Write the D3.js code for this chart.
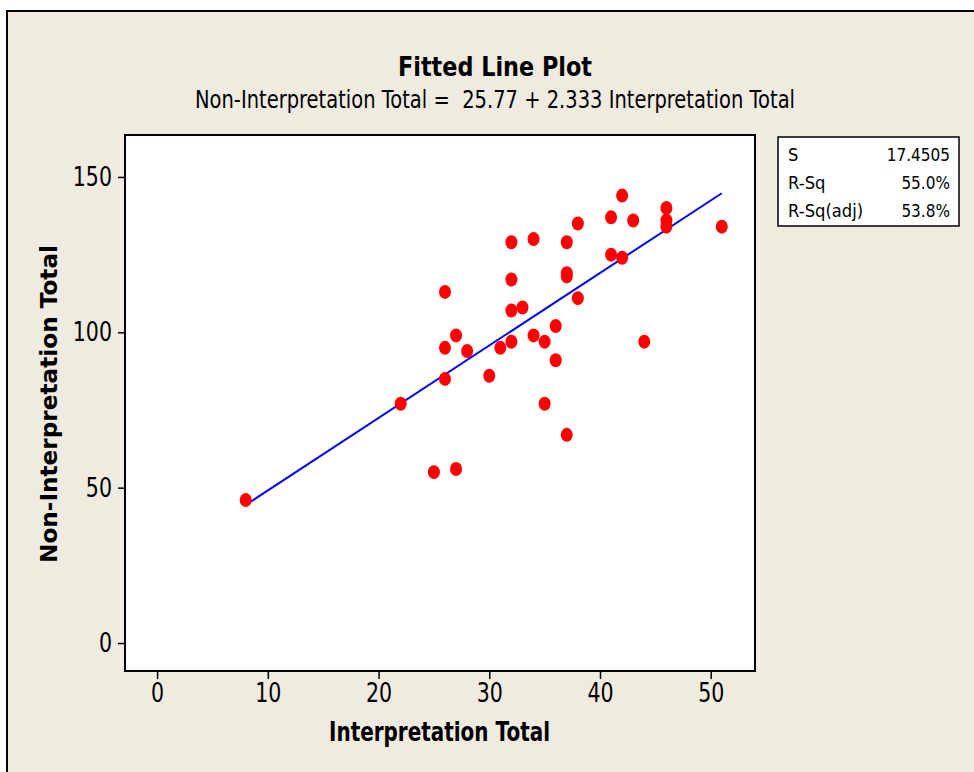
<!DOCTYPE html>
<html><head><meta charset="utf-8">
<script src="https://cdn.jsdelivr.net/npm/d3@7"></script>
<style>body{margin:0;background:#fff}svg{display:block}text{white-space:pre}</style>
</head><body>
<svg id="c" width="974" height="772"></svg>
<script>
const interpretation = [8,22,25,26,26,26,27,27,28,30,31,32,32,32,32,33,34,34,35,35,36,36,37,37,37,37,38,38,41,41,42,42,43,44,46,46,46,51];
const nonInterpretation = [46,77,55,113,95,85,56,99,94,86,95,129,117,107,97,108,130,99,97,77,102,91,129,119,118,67,135,111,137,125,144,124,136,97,140,136,134,134];
const xTicks = [0,10,20,30,40,50];
const yTicks = [0,50,100,150];
const intercept = 25.77, slope = 2.333;
const statLabels = ["S","R-Sq","R-Sq(adj)"];
const statValues = ["17.4505","55.0%","53.8%"];
const titleText = "Fitted Line Plot";
const subtitleText = "Non-Interpretation Total =  25.77 + 2.333 Interpretation Total";
const xLabel = "Interpretation Total";
const yLabel = "Non-Interpretation Total";

const svg = d3.select("#c");
const font = "'DejaVu Sans',Verdana,sans-serif";

function squeeze(sel, f){
  sel.each(function(){
    const w = this.getComputedTextLength();
    d3.select(this).attr("textLength", w*f).attr("lengthAdjust","spacingAndGlyphs");
  });
}
function fitTo(sel, w){ sel.attr("textLength", w).attr("lengthAdjust","spacingAndGlyphs"); }

svg.append("rect").attr("x",7).attr("y",11).attr("width",1000).attr("height",800)
  .attr("fill","#efebe1").attr("stroke","#000").attr("stroke-width",2);

const L=125,T=135,R=755,B=671;
const x = d3.scaleLinear().domain([-2.9,54]).range([L,R]);
const y = d3.scaleLinear().domain([-9,163.5]).range([B,T]);

svg.append("rect").attr("x",L).attr("y",T).attr("width",R-L).attr("height",B-T)
  .attr("fill","#fff").attr("stroke","#000").attr("stroke-width",2);

const gx = svg.append("g").attr("transform",`translate(0,${B})`)
  .call(d3.axisBottom(x).tickValues(xTicks).tickSize(8).tickPadding(5).tickFormat(d3.format("d")));
const gy = svg.append("g").attr("transform",`translate(${L},0)`)
  .call(d3.axisLeft(y).tickValues(yTicks).tickSize(7).tickPadding(6).tickFormat(d3.format("d")));
[gx,gy].forEach(g=>{
  g.select(".domain").remove();
  g.selectAll(".tick line").attr("stroke","#000").attr("stroke-width",1.5);
  g.selectAll(".tick text").attr("fill","#000").style("font-family",font).style("font-size","26px");
  squeeze(g.selectAll(".tick text"), 0.79);
});

// fitted line
const xs = [d3.min(interpretation), d3.max(interpretation)];
svg.append("path").datum(xs)
  .attr("d", d3.line().x(d=>x(d)).y(d=>y(intercept+slope*d)))
  .attr("fill","none").attr("stroke","#0000ff").attr("stroke-width",2);

// points
svg.append("g").selectAll("ellipse").data(interpretation.map((v,i)=>[v,nonInterpretation[i]]))
  .join("ellipse").attr("cx",d=>x(d[0])).attr("cy",d=>y(d[1])).attr("rx",6).attr("ry",7)
  .attr("fill","#ff0000");

// titles
fitTo(svg.append("text").attr("x",398).attr("y",76)
  .style("font-family",font).style("font-weight","bold").style("font-size","26px").text(titleText), 194);
fitTo(svg.append("text").attr("x",195).attr("y",108)
  .style("font-family",font).style("font-size","25px").text(subtitleText), 600);

fitTo(svg.append("text").attr("x",329).attr("y",741)
  .style("font-family",font).style("font-weight","bold").style("font-size","27px").text(xLabel), 221);
fitTo(svg.append("text").attr("transform","translate(57,563) rotate(-90)")
  .style("font-family",font).style("font-weight","bold").style("font-size","23px").text(yLabel), 318);

// stats box
const bx=778, by=137, bw=181, bh=89;
svg.append("rect").attr("x",bx).attr("y",by).attr("width",bw).attr("height",bh)
  .attr("fill","#fff").attr("stroke","#000").attr("stroke-width",1.5);
const rows = svg.append("g").selectAll("g").data(statLabels).join("g")
  .attr("transform",(d,i)=>`translate(0,${by+24+i*28})`);
const labs = rows.append("text").attr("x",bx+10).text(d=>d)
  .style("font-family",font).style("font-size","18px");
squeeze(labs, 0.91);
const vals = rows.append("text").attr("x",bx+bw-9).attr("text-anchor","end").text((d,i)=>statValues[i])
  .style("font-family",font).style("font-size","18px");
squeeze(vals, 0.85);
</script>
</body></html>
